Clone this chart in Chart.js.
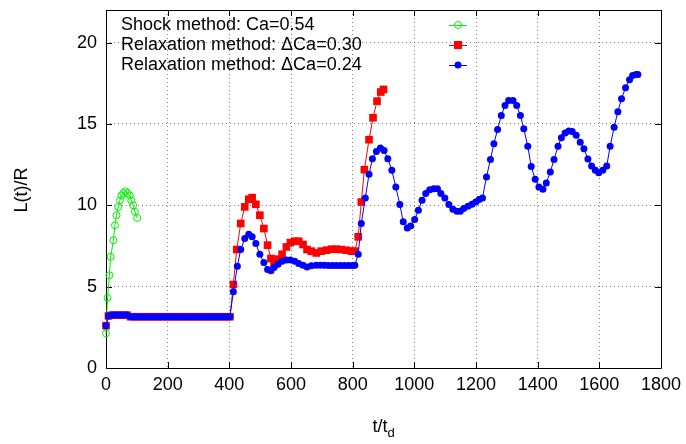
<!DOCTYPE html>
<html>
<head>
<meta charset="utf-8">
<script src="https://cdn.jsdelivr.net/npm/chart.js@4.4.1/dist/chart.umd.min.js"></script>
<style>
html,body{margin:0;padding:0;background:#fff;}
#c{display:block;}
</style>
</head>
<body>
<canvas id="c" width="686" height="444"></canvas>
<script>
// ---- data ----
const seriesNames = ["Shock method: Ca=0.54", "Relaxation method: \u0394Ca=0.30", "Relaxation method: \u0394Ca=0.24"];

const shockX = [0,5,11,15,24,29,34,40,45,50,56,63,69,77,82,88,94,101];
const shockY = [2.13,4.31,5.7,6.83,7.85,8.77,9.39,9.9,10.3,10.6,10.75,10.86,10.75,10.6,10.3,10.0,9.6,9.22];

const relax30X = [0,8,20,32,44,56,68,80,92,104,116,128,140,152,164,176,188,200,212,224,236,248,260,272,284,296,308,320,332,344,356,368,380,392,402,
  413,424,437,450,463,474,486,499,512,524,535,545,558,571,585,598,612,625,639,652,666,682,698,715,731,747,763,779,796,807,
  818,828,838,853,866,879,891,900];
const relax30Y = [2.6,3.2,3.25,3.25,3.25,3.25,3.25,3.15,3.15,3.15,3.15,3.15,3.15,3.15,3.15,3.15,3.15,3.15,3.15,3.15,3.15,3.15,3.15,3.15,3.15,3.15,3.15,3.15,3.15,3.15,3.15,3.15,3.15,3.15,3.15,
  5.13,7.28,8.88,9.9,10.37,10.47,10.06,9.39,8.57,7.55,6.73,6.42,6.69,6.99,7.44,7.71,7.79,7.79,7.59,7.28,7.18,7.07,7.18,7.24,7.3,7.3,7.28,7.24,7.18,7.18,
  8.06,10.2,12.19,14.03,15.38,16.4,16.96,17.12];

const relax24X = [0,8,20,32,44,56,68,80,92,104,116,128,140,152,164,176,188,200,212,224,236,248,260,272,284,296,308,320,332,344,356,368,380,392,402,
  413,426,437,450,463,474,486,499,512,524,535,545,558,571,585,598,612,625,639,652,666,682,695,708,721,734,747,760,773,786,799,807,
  818,828,841,853,864,877,890,902,914,927,940,953,964,977,988,1001,1013,1025,1037,1050,1063,1075,1086,1099,
  1112,1125,1138,1149,1160,1174,1187,1199,1210,1221,1234,1247,1258,1270,1282,1294,1306,1320,1332,1344,1355,1368,1379,1392,
  1404,1417,1428,1441,1453,1466,1477,1489,1501,1512,1525,1538,1550,1563,1575,1587,1598,1611,1624,1635,1648,1660,1672,1685,1698,1708,1719,1725];
const relax24Y = [2.6,3.2,3.25,3.25,3.25,3.25,3.25,3.15,3.15,3.15,3.15,3.15,3.15,3.15,3.15,3.15,3.15,3.15,3.15,3.15,3.15,3.15,3.15,3.15,3.15,3.15,3.15,3.15,3.15,3.15,3.15,3.15,3.15,3.15,3.15,
  4.68,6.26,7.28,7.96,8.22,8.06,7.65,6.99,6.48,6.06,5.97,6.18,6.38,6.56,6.63,6.63,6.56,6.42,6.32,6.21,6.28,6.32,6.32,6.32,6.3,6.3,6.3,6.3,6.3,6.3,6.3,6.32,
  6.99,8.88,10.45,11.9,12.86,13.31,13.52,13.37,12.86,12.15,11.12,10.04,8.98,8.61,8.73,9.12,9.69,10.31,10.72,10.96,11.02,11.02,10.72,10.45,
  10.04,9.75,9.63,9.63,9.8,9.94,10.06,10.2,10.35,10.45,11.74,12.82,13.78,14.66,15.52,16.13,16.44,16.44,16.13,15.52,14.7,13.62,12.39,11.6,
  11.12,10.98,11.37,12.04,12.82,13.62,14.15,14.44,14.56,14.54,14.3,13.88,13.48,12.84,12.41,12.15,12.0,12.15,12.41,13.62,14.8,15.75,16.55,17.22,17.71,17.98,18.04,18.04];

const xTickValues = [0,200,400,600,800,1000,1200,1400,1600,1800];
const yTickValues = [0,5,10,15,20];
const xTitle = ["t/t", "d"];
const yTitle = "L(t)/R";

// ---- build ----
const FONT = "'Liberation Sans', Arial, sans-serif";
const toPts = (xs, ys) => xs.map((x, i) => ({x: x, y: ys[i]}));
const colors = ["#00ee00", "#ff0000", "#0000ff"];

const frameAndLegend = {
  id: 'frameAndLegend',
  beforeDatasetsDraw(chart) {
    const {ctx, chartArea: a, scales} = chart;
    ctx.save();
    ctx.strokeStyle = '#000';
    ctx.lineWidth = 1;
    ctx.beginPath();
    ctx.rect(Math.round(a.left) + 0.5, Math.round(a.top) + 0.5, Math.round(a.right - a.left), Math.round(a.bottom - a.top));
    ctx.stroke();
    const tl = 6;
    ctx.beginPath();
    xTickValues.forEach(v => {
      const px = Math.round(scales.x.getPixelForValue(v)) + 0.5;
      ctx.moveTo(px, a.bottom); ctx.lineTo(px, a.bottom - tl);
      ctx.moveTo(px, a.top); ctx.lineTo(px, a.top + tl);
    });
    yTickValues.forEach(v => {
      const py = Math.round(scales.y.getPixelForValue(v)) + 0.5;
      ctx.moveTo(a.left, py); ctx.lineTo(a.left + tl, py);
      ctx.moveTo(a.right, py); ctx.lineTo(a.right - tl, py);
    });
    ctx.stroke();
    ctx.restore();
  },
  afterDraw(chart) {
    const {ctx, chartArea: a} = chart;
    ctx.save();
    ctx.fillStyle = '#000';
    ctx.font = "18px " + FONT;
    ctx.textBaseline = 'middle';
    const w1 = ctx.measureText(xTitle[0]).width;
    ctx.font = "13px " + FONT;
    const w2 = ctx.measureText(xTitle[1]).width;
    const cx = (a.left + a.right) / 2;
    const sx = cx - (w1 + w2) / 2;
    ctx.font = "18px " + FONT;
    ctx.textAlign = 'left';
    ctx.fillText(xTitle[0], sx, 427);
    ctx.font = "13px " + FONT;
    ctx.fillText(xTitle[1], sx + w1, 433);
    ctx.font = "18px " + FONT;
    ctx.translate(22, 190);
    ctx.rotate(-Math.PI / 2);
    ctx.textAlign = 'center';
    ctx.fillText(yTitle, 0, 0);
    ctx.restore();

    ctx.save();
    ctx.font = "18px " + FONT;
    ctx.textBaseline = 'middle';
    ctx.textAlign = 'left';
    const rows = [25, 45, 65];
    seriesNames.forEach((name, i) => {
      const y = rows[i];
      ctx.fillStyle = '#000';
      ctx.fillText(name, 121, y);
      ctx.strokeStyle = colors[i];
      ctx.lineWidth = 1;
      ctx.beginPath();
      ctx.moveTo(449, y + 0.5); ctx.lineTo(467, y + 0.5);
      ctx.stroke();
      ctx.fillStyle = colors[i];
      ctx.beginPath();
      if (i === 0) {
        ctx.arc(458, y, 3.5, 0, Math.PI * 2);
        ctx.stroke();
      } else if (i === 1) {
        ctx.fillRect(458 - 4, y - 4, 8, 8);
      } else {
        ctx.arc(458, y, 3.5, 0, Math.PI * 2);
        ctx.fill();
      }
    });
    ctx.restore();
  }
};

new Chart(document.getElementById('c'), {
  type: 'line',
  data: {
    datasets: [
      {label: seriesNames[2], data: toPts(relax24X, relax24Y), borderColor: colors[2], backgroundColor: colors[2],
        borderWidth: 1, pointStyle: 'circle', pointRadius: 3.5, pointBorderWidth: 0, pointBackgroundColor: colors[2], clip: false, tension: 0},
      {label: seriesNames[1], data: toPts(relax30X, relax30Y), borderColor: colors[1], backgroundColor: colors[1],
        borderWidth: 1, pointStyle: 'rect', pointRadius: 5.4, pointBorderWidth: 0, pointBackgroundColor: colors[1], clip: false, tension: 0},
      {label: seriesNames[0], data: toPts(shockX, shockY), borderColor: colors[0], backgroundColor: 'rgba(0,0,0,0)',
        borderWidth: 1, pointStyle: 'circle', pointRadius: 3.5, pointBorderWidth: 1, pointBorderColor: colors[0], pointBackgroundColor: 'rgba(0,0,0,0)', clip: false, tension: 0}
    ]
  },
  options: {
    responsive: false,
    animation: false,
    layout: {padding: {top: 10, right: 25, left: 0, bottom: 0}},
    plugins: {legend: {display: false}, tooltip: {enabled: false}},
    scales: {
      x: {
        type: 'linear', min: 0, max: 1800,
        afterBuildTicks: s => { s.ticks = xTickValues.map(v => ({value: v})); },
        afterFit: s => { s.height = 76; s.paddingLeft = 0; s.paddingRight = 0; },
        ticks: {color: '#000', font: {family: FONT, size: 18}, padding: 6, maxRotation: 0, autoSkip: false,
          callback: v => String(v)},
        grid: {color: 'rgba(0,0,0,0.5)', lineWidth: 1, drawTicks: false},
        border: {display: false, dash: [1, 3]}
      },
      y: {
        type: 'linear', min: 0, max: 22,
        afterBuildTicks: s => { s.ticks = yTickValues.map(v => ({value: v})); },
        afterFit: s => { s.width = 106; s.paddingTop = 0; s.paddingBottom = 0; },
        ticks: {color: '#000', font: {family: FONT, size: 18}, padding: 9, callback: v => String(v)},
        grid: {color: 'rgba(0,0,0,0.5)', lineWidth: 1, drawTicks: false},
        border: {display: false, dash: [1, 3]}
      }
    }
  },
  plugins: [frameAndLegend]
});
</script>
</body>
</html>
